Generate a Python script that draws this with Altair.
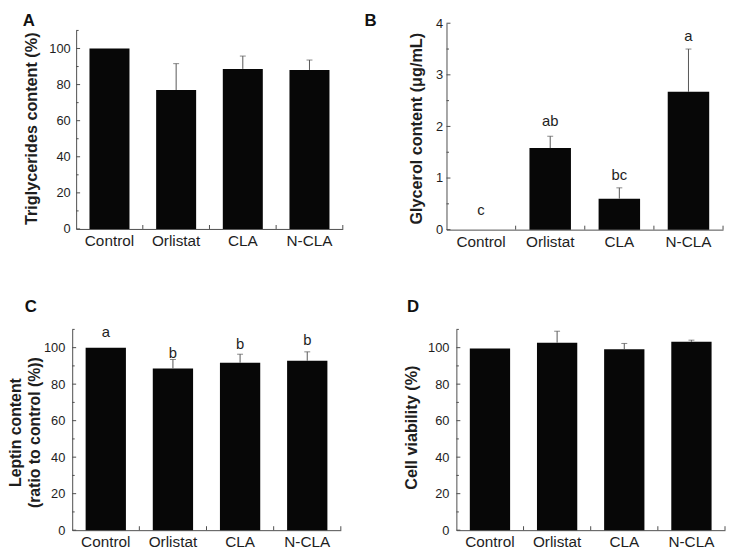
import altair as alt
import pandas as pd

categories = ["Control", "Orlistat", "CLA", "N-CLA"]

# Panel A: triglycerides (%)
tg_mean = [100, 77.0, 88.7, 88.1]
tg_err = [0, 14.6, 7.1, 5.5]

# Panel B: glycerol (ug/mL)
gly_mean = [0, 1.58, 0.60, 2.67]
gly_err = [0, 0.23, 0.21, 0.83]
gly_letters = ["c", "ab", "bc", "a"]
gly_letter_y = [0.28, 2.0, 0.965, 3.66]

# Panel C: leptin (ratio to control, %)
lep_mean = [100, 88.6, 91.7, 92.8]
lep_err = [0, 4.9, 4.7, 4.9]
lep_letters = ["a", "b", "b", "b"]
lep_letter_y = [105.8, 94.4, 99.5, 101.6]

# Panel D: cell viability (%)
via_mean = [99.5, 102.7, 99.1, 103.2]
via_err = [0, 6.3, 3.2, 0.9]

pct_major = [0, 20, 40, 60, 80, 100]
pct_minor = [10, 30, 50, 70, 90, 110]
gly_major = [0, 1, 2, 3, 4]
gly_minor = [0.5, 1.5, 2.5, 3.5]
bounds_q = [1, 2, 3, 4]

FONT = "Liberation Sans"
BAR = "#070707"
AXIS = "#4d4d4d"
TXT = "#1e1e1e"
ERR = "#555555"


def panel(letter, letter_dx, letter_offset, means, errs, ymax, y_major, y_minor,
          ytitle, title_x, title_y, label_pad, width, height,
          x0=0, ytop=0, letters=None, letter_y=None):
    df = pd.DataFrame({"cat": categories, "mean": means, "err": errs,
                       "top": [m + e for m, e in zip(means, errs)]})
    xkw = dict(domain=categories, paddingInner=0.4, paddingOuter=0.2)
    qkw = dict(domain=[0, 4])
    if x0:
        xkw["range"] = [x0, width]
        qkw["range"] = [x0, width]
    ykw = dict(domain=[0, ymax], nice=False, zero=True)
    if ytop:
        ykw["range"] = [height, ytop]
    xscale = alt.Scale(**xkw)
    yscale = alt.Scale(**ykw)

    xaxis = alt.Axis(title=None, labelAngle=0, ticks=False, tickSize=0,
                     domainColor=AXIS, domainWidth=1, labelFont=FONT,
                     labelFontSize=15.5, labelColor=TXT, labelPadding=5)
    yaxis_kw = dict(values=y_major, ticks=False, tickSize=0, grid=False,
                    domainColor=AXIS, domainWidth=1, labelFont=FONT,
                    labelFontSize=13, labelColor=TXT, labelPadding=label_pad,
                    title=ytitle, titleFont=FONT, titleFontSize=16.4,
                    titleFontWeight="bold", titleColor=TXT, titleX=title_x,
                    titleY=title_y, titleAngle=270, titleAlign="center",
                    titleBaseline="middle")
    if isinstance(ytitle, list):
        yaxis_kw["titleLineHeight"] = 18.5
        yaxis_kw["titleFontSize"] = 16
    if x0:
        yaxis_kw["offset"] = -x0
    yaxis = alt.Axis(**yaxis_kw)

    def X():
        return alt.X("cat:N", sort=categories, scale=xscale, axis=None)

    def Y(f):
        return alt.Y(f, scale=yscale, axis=yaxis)

    base = alt.Chart(df)
    bars = base.mark_bar(color=BAR).encode(
        x=alt.X("cat:N", sort=categories, scale=xscale, axis=xaxis),
        y=Y("mean:Q"),
    )
    errdf = base.transform_filter("datum.err > 0")
    err_line = errdf.mark_rule(color=ERR, strokeWidth=1).encode(
        x=X(), y=Y("mean:Q"), y2="top:Q")
    err_cap = errdf.mark_tick(color=ERR, orient="horizontal", size=6,
                              thickness=1).encode(x=X(), y=Y("top:Q"))
    ymaj = alt.Chart(pd.DataFrame({"t": y_major})).mark_rule(color=AXIS).encode(
        y=Y("t:Q"), x=alt.value(x0), x2=alt.value(x0 + 4))
    ymin = alt.Chart(pd.DataFrame({"t": y_minor})).mark_rule(color=AXIS).encode(
        y=Y("t:Q"), x=alt.value(x0), x2=alt.value(x0 + 2.5))
    layers = [bars, err_line, err_cap, ymaj, ymin]
    if letters:
        ldf = pd.DataFrame({"cat": categories, "lab": letters, "ly": letter_y})
        lab = alt.Chart(ldf).mark_text(font=FONT, fontSize=15, color=TXT,
                                       baseline="alphabetic", align="center").encode(
            x=X(), y=Y("ly:Q"), text="lab:N")
        layers.append(lab)
    xt = alt.Chart(pd.DataFrame({"b": bounds_q})).mark_rule(color=AXIS).encode(
        x=alt.X("b:Q", scale=alt.Scale(**qkw), axis=None),
        y=alt.value(height), y2=alt.value(height - 4),
    )
    layers.append(xt)
    return alt.layer(*layers).resolve_scale(x="independent").properties(
        width=width, height=height,
        title=alt.TitleParams(text=letter, anchor="start", frame="group",
                              dx=letter_dx, offset=letter_offset, fontSize=17,
                              font=FONT, fontWeight="bold", color="#111111",
                              baseline="alphabetic"),
    )


A = panel("A", -50, -19.9, tg_mean, tg_err, 110, pct_major, pct_minor,
          "Triglycerides content (%)", -45.5, 106.3, 6, 274, 208.3,
          x0=4, ytop=7.3)
B = panel("B", -83, -25.7, gly_mean, gly_err, 4, gly_major, gly_minor,
          "Glycerol content (μg/mL)", -30, 106.3, 4, 280, 209,
          letters=gly_letters, letter_y=gly_letter_y)
C = panel("C", -48, -3.2, lep_mean, lep_err, 110, pct_major, pct_minor,
          ["Leptin content", "(ratio to control (%))"], -57, 104, 7.5, 272, 203.3,
          letters=lep_letters, letter_y=lep_letter_y)
D = panel("D", -40, 0.5, via_mean, via_err, 110, pct_major, pct_minor,
          "Cell viability (%)", -45, 99, 7.5, 282, 203.3, x0=10)

chart = alt.concat(A, B, C, D, columns=2, spacing={"row": 101, "column": 105},
                   bounds="flush", align="none").properties(
    padding={"left": 0, "top": 0, "right": 0, "bottom": 0}
).configure_view(stroke=None)

chart.save("out.html", embed_options={"renderer": "svg", "actions": False})
